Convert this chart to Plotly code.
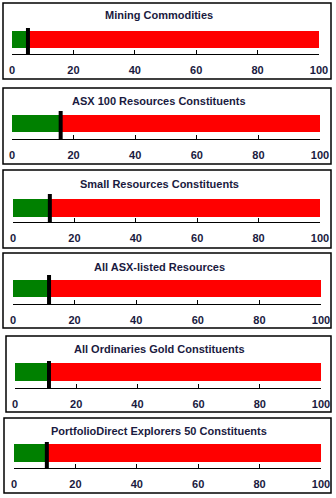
import plotly.graph_objects as go

titles = [
    "Mining Commodities",
    "ASX 100 Resources Constituents",
    "Small Resources Constituents",
    "All ASX-listed Resources",
    "All Ordinaries Gold Constituents",
    "PortfolioDirect Explorers 50 Constituents",
]
values = [5.2, 15.8, 12.0, 11.7, 11.1, 10.7]
scale_max = 100
tick_vals = [0, 20, 40, 60, 80, 100]

W, H = 336, 498
# layout geometry in pixels: box(l,t,r,b), title y, bar top, bar bottom, axis y, marker top, x0, x1
geom = [
    dict(box=(3, 3, 331, 79), ty=15, bt=31, bb=48, ay=54, mt=28, x0=12, x1=319),
    dict(box=(3, 88, 331, 164), ty=101, bt=115, bb=132, ay=139, mt=111, x0=12, x1=320),
    dict(box=(3, 170, 331, 248), ty=184, bt=199, bb=217, ay=222, mt=194, x0=13, x1=320),
    dict(box=(3, 253, 331, 328), ty=267, bt=280, bb=297, ay=304, mt=275, x0=13, x1=321),
    dict(box=(6, 336, 331, 412), ty=349, bt=363, bb=381, ay=388, mt=361, x0=15, x1=321),
    dict(box=(4, 418, 331, 493), ty=431, bt=444, bb=462, ay=468, mt=442, x0=14, x1=321),
]

def px(x):
    return x / W

def py(y):
    return 1 - y / H

fig = go.Figure()
shapes = []
annotations = []
text_col = "#1a1a40"
font_fam = "Liberation Sans, Arial, sans-serif"

for i, (t, v, g) in enumerate(zip(titles, values, geom)):
    n = i + 1
    xa = "x" if n == 1 else f"x{n}"
    ya = "y" if n == 1 else f"y{n}"
    span = g["ay"] - g["mt"]
    bc = (g["ay"] - (g["bt"] + g["bb"]) / 2) / span
    bw = (g["bb"] - g["bt"]) / span

    fig.add_trace(go.Bar(x=[v], y=[bc], base=[0], width=[bw], orientation="h",
                         marker=dict(color="#008000", line=dict(width=0)),
                         xaxis=xa, yaxis=ya, showlegend=False, hoverinfo="skip"))
    fig.add_trace(go.Bar(x=[scale_max - v], y=[bc], base=[v], width=[bw], orientation="h",
                         marker=dict(color="#ff0000", line=dict(width=0)),
                         xaxis=xa, yaxis=ya, showlegend=False, hoverinfo="skip"))
    fig.add_trace(go.Scatter(x=[v, v], y=[0, 1], mode="lines",
                             line=dict(color="black", width=4),
                             xaxis=xa, yaxis=ya, showlegend=False, hoverinfo="skip"))

    xkey = "xaxis" if n == 1 else f"xaxis{n}"
    ykey = "yaxis" if n == 1 else f"yaxis{n}"
    fig.update_layout(**{
        xkey: dict(domain=[px(g["x0"]), px(g["x1"])], range=[0, scale_max],
                   anchor=ya, tickvals=tick_vals, ticks="inside", ticklen=4,
                   tickwidth=1, tickcolor="black", showline=True, linecolor="black",
                   linewidth=1, showgrid=False, zeroline=False, fixedrange=True,
                   automargin=False, ticklabelstandoff=6,
                   tickfont=dict(family=font_fam, size=11, color=text_col, weight="bold")),
        ykey: dict(domain=[py(g["ay"]), py(g["mt"])], range=[0, 1], anchor=xa,
                   visible=False, fixedrange=True, automargin=False),
    })
    l, tp, r, b = g["box"]
    shapes.append(dict(type="rect", xref="paper", yref="paper",
                       x0=px(l), x1=px(r), y0=py(b), y1=py(tp),
                       line=dict(color="black", width=1.5), fillcolor="rgba(0,0,0,0)"))
    annotations.append(dict(text=t, xref="paper", yref="paper", x=px(159), y=py(g["ty"]),
                            xanchor="center", yanchor="middle", showarrow=False,
                            font=dict(family=font_fam, size=11, color=text_col, weight="bold")))

fig.update_layout(width=W, height=H, margin=dict(l=0, r=0, t=0, b=0, autoexpand=False),
                  paper_bgcolor="white", plot_bgcolor="white", barmode="overlay",
                  bargap=0, shapes=shapes, annotations=annotations)

fig.write_html("out.html")
